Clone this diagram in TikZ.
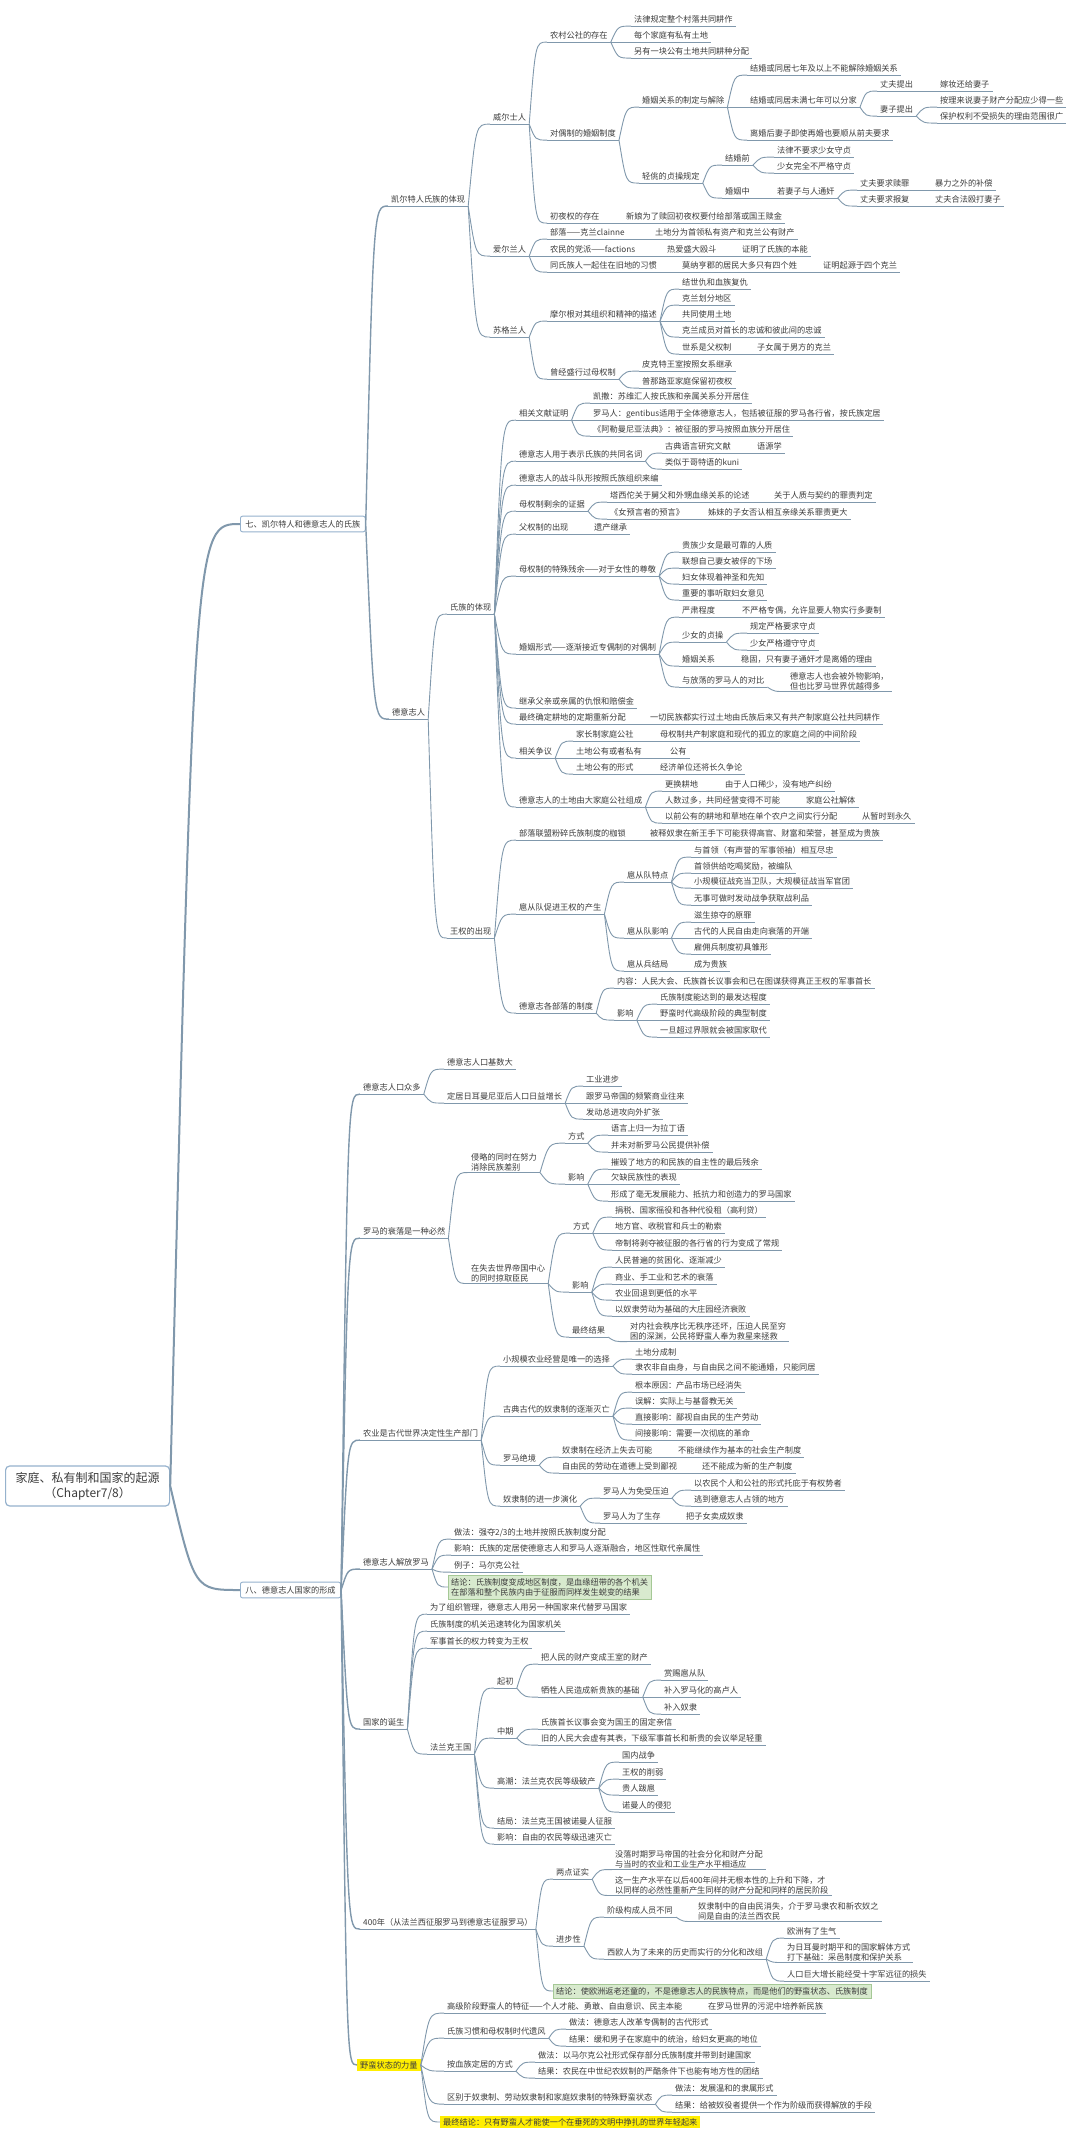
\documentclass[tikz,border=0pt]{standalone}
\usepackage{fontspec}
\setmainfont{Noto Sans CJK SC}
\usetikzlibrary{calc}
\definecolor{linecol}{RGB}{128,152,172}
\definecolor{txtcol}{RGB}{60,60,60}
\definecolor{boxcol}{RGB}{150,178,205}
\definecolor{notegreen}{RGB}{216,234,206}
\definecolor{noteline}{RGB}{165,200,150}
\definecolor{hlyellow}{RGB}{255,238,0}

\tikzset{
  uline/.style={draw=linecol,line width=0.9pt},
  conn/.style={draw=linecol,line width=0.9pt},
  tbase/.style={anchor=west,inner xsep=3pt,inner ysep=1.5pt,text=txtcol,
    font=\fontsize{8.2}{10}\selectfont,
    append after command={(\tikzlastnode.south west) edge[uline] (\tikzlastnode.south east)}},
  topic/.style={tbase,text height=7pt,text depth=1.8pt},
  topic2/.style={tbase,align=left},
  rootbox/.style={anchor=west,draw=boxcol,line width=1.2pt,rounded corners=4pt,fill=white,
    align=center,text=txtcol,font=\fontsize{12}{15}\selectfont,inner xsep=10pt,inner ysep=6pt},
  levelbox/.style={anchor=west,draw=boxcol,line width=0.9pt,rounded corners=2pt,fill=white,
    text=txtcol,font=\fontsize{8.2}{10}\selectfont,inner xsep=5pt,inner ysep=4pt},
  note/.style={anchor=west,fill=notegreen,draw=noteline,align=left,text=txtcol,
    font=\fontsize{8.2}{10}\selectfont,inner sep=3pt},
  hl/.style={anchor=west,fill=hlyellow,text=txtcol,font=\fontsize{8.2}{10}\selectfont,
    inner xsep=3pt,inner ysep=2.5pt}
}
% curved connector, fans out from the end of the parent line
\newcommand{\branch}[3][]{\draw[conn,#1] let \p1=(#2), \p2=(#3) in
  (\p1) .. controls (\x1+0.35*\x2-0.35*\x1,\y2) .. (\p2);}
\newcommand{\kids}[2]{\foreach \ch in {#2}{\branch{#1.south east}{\ch.south west}}}

\begin{document}
\begin{tikzpicture}[x=1pt,y=-1pt]
\useasboundingbox (0,0) rectangle (1080,2141);
\fill[white] (0,0) rectangle (1080,2141);

% root and first level
\node[rootbox] (root) at (5,1486) {家庭、私有制和国家的起源\\（Chapter7/8）};
\node[levelbox] (qi) at (240,524) {七、凯尔特人和德意志人的氏族};
\node[levelbox] (ba) at (240,1590) {八、德意志人国家的形成};

% ---- 七 ----
\node[topic] (celt) at (388,200) {凯尔特人氏族的体现};
\node[topic] (wales) at (490,118) {威尔士人};
\node[topic] (w1) at (547,36) {农村公社的存在};
\node[topic] (w1a) at (631,20) {法律规定整个村落共同耕作};
\node[topic] (w1b) at (631,36) {每个家庭有私有土地};
\node[topic] (w1c) at (631,52) {另有一块公有土地共同耕种分配};
\node[topic] (w2) at (547,134) {对偶制的婚姻制度};
\node[topic] (w2a) at (639,101) {婚姻关系的制定与解除};
\node[topic] (w2a1) at (747,69) {结婚或同居七年及以上不能解除婚姻关系};
\node[topic] (w2a2) at (747,101) {结婚或同居未满七年可以分家};
\node[topic] (hus) at (877,85) {丈夫提出};
\node[topic] (hus1) at (937,85) {嫁妆还给妻子};
\node[topic] (wife) at (877,110) {妻子提出};
\node[topic] (wife1) at (937,101) {按理来说妻子财产分配应少得一些};
\node[topic] (wife2) at (937,117) {保护权利不受损失的理由范围很广};
\node[topic] (w2a3) at (747,134) {离婚后妻子即使再婚也要顺从前夫要求};
\node[topic] (w2b) at (639,177) {轻佻的贞操规定};
\node[topic] (bef) at (722,159) {结婚前};
\node[topic] (bef1) at (774,151) {法律不要求少女守贞};
\node[topic] (bef2) at (774,167) {少女完全不严格守贞};
\node[topic] (dur) at (722,192) {婚姻中};
\node[topic] (adul) at (774,192) {若妻子与人通奸};
\node[topic] (adul1) at (857,184) {丈夫要求赎罪};
\node[topic] (adul1a) at (932,184) {暴力之外的补偿};
\node[topic] (adul2) at (857,200) {丈夫要求报复};
\node[topic] (adul2a) at (932,200) {丈夫合法殴打妻子};
\node[topic] (w3) at (547,217) {初夜权的存在};
\node[topic] (w3a) at (623,217) {新娘为了赎回初夜权要付给部落或国王赎金};
\node[topic] (irish) at (490,250) {爱尔兰人};
\node[topic] (ir1) at (547,233) {部落——克兰clainne};
\node[topic] (ir1a) at (652,233) {土地分为首领私有资产和克兰公有财产};
\node[topic] (ir2) at (547,250) {农民的党派——factions};
\node[topic] (ir2a) at (664,250) {热爱盛大殴斗};
\node[topic] (ir2b) at (739,250) {证明了氏族的本能};
\node[topic] (ir3) at (547,266) {同氏族人一起住在旧地的习惯};
\node[topic] (ir3a) at (679,266) {莫纳亨郡的居民大多只有四个姓};
\node[topic] (ir3b) at (820,266) {证明起源于四个克兰};
\node[topic] (scot) at (490,331) {苏格兰人};
\node[topic] (sc1) at (547,315) {摩尔根对其组织和精神的描述};
\node[topic] (sc1a) at (679,283) {结世仇和血族复仇};
\node[topic] (sc1b) at (679,299) {克兰划分地区};
\node[topic] (sc1c) at (679,315) {共同使用土地};
\node[topic] (sc1d) at (679,331) {克兰成员对首长的忠诚和彼此间的忠诚};
\node[topic] (sc1e) at (679,348) {世系是父权制};
\node[topic] (sc1e1) at (754,348) {子女属于男方的克兰};
\node[topic] (sc2) at (547,373) {曾经盛行过母权制};
\node[topic] (sc2a) at (639,365) {皮克特王室按照女系继承};
\node[topic] (sc2b) at (639,382) {普那路亚家庭保留初夜权};

\node[topic] (de) at (389,713) {德意志人};
\node[topic] (gens) at (447,608) {氏族的体现};
\node[topic] (g1) at (516,414) {相关文献证明};
\node[topic] (g1a) at (590,397) {凯撒：苏维汇人按氏族和亲属关系分开居住};
\node[topic] (g1b) at (590,414) {罗马人：gentibus适用于全体德意志人，包括被征服的罗马各行省，按氏族定居};
\node[topic] (g1c) at (590,430) {《阿勒曼尼亚法典》：被征服的罗马按照血族分开居住};
\node[topic] (g2) at (516,455) {德意志人用于表示氏族的共同名词};
\node[topic] (g2a) at (662,447) {古典语言研究文献};
\node[topic] (g2a1) at (754,447) {语源学};
\node[topic] (g2b) at (662,463) {类似于哥特语的kuni};
\node[topic] (g3) at (516,479) {德意志人的战斗队形按照氏族组织来编};
\node[topic] (g4) at (516,505) {母权制剩余的证据};
\node[topic] (g4a) at (607,496) {塔西佗关于舅父和外甥血缘关系的论述};
\node[topic] (g4a1) at (771,496) {关于人质与契约的罪责判定};
\node[topic] (g4b) at (607,513) {《女预言者的预言》};
\node[topic] (g4b1) at (705,513) {姊妹的子女否认相互亲缘关系罪责更大};
\node[topic] (g5) at (516,528) {父权制的出现};
\node[topic] (g5a) at (591,528) {遗产继承};
\node[topic] (g6) at (516,570) {母权制的特殊残余——对于女性的尊敬};
\node[topic] (g6a) at (679,546) {贵族少女是最可靠的人质};
\node[topic] (g6b) at (679,562) {联想自己妻女被俘的下场};
\node[topic] (g6c) at (679,578) {妇女体现着神圣和先知};
\node[topic] (g6d) at (679,594) {重要的事听取妇女意见};
\node[topic] (g7) at (516,648) {婚姻形式——逐渐接近专偶制的对偶制};
\node[topic] (g7a) at (679,611) {严肃程度};
\node[topic] (g7a1) at (739,611) {不严格专偶，允许显要人物实行多妻制};
\node[topic] (g7b) at (679,636) {少女的贞操};
\node[topic] (g7b1) at (747,627) {规定严格要求守贞};
\node[topic] (g7b2) at (747,644) {少女严格遵守守贞};
\node[topic] (g7c) at (679,660) {婚姻关系};
\node[topic] (g7c1) at (738,660) {稳固，只有妻子通奸才是离婚的理由};
\node[topic] (g7d) at (679,681) {与放荡的罗马人的对比};
\node[topic2] (g7d1) at (787,681) {德意志人也会被外物影响，\\但也比罗马世界优越得多};
\node[topic] (g8) at (516,702) {继承父亲或亲属的仇恨和赔偿金};
\node[topic] (g9) at (516,718) {最终确定耕地的定期重新分配};
\node[topic] (g9a) at (647,718) {一切民族都实行过土地由氏族后来又有共产制家庭公社共同耕作};
\node[topic] (g10) at (516,752) {相关争议};
\node[topic] (g10a) at (573,735) {家长制家庭公社};
\node[topic] (g10a1) at (657,735) {母权制共产制家庭和现代的孤立的家庭之间的中间阶段};
\node[topic] (g10b) at (573,752) {土地公有或者私有};
\node[topic] (g10b1) at (667,752) {公有};
\node[topic] (g10c) at (573,768) {土地公有的形式};
\node[topic] (g10c1) at (657,768) {经济单位还将长久争论};
\node[topic] (g11) at (516,801) {德意志人的土地由大家庭公社组成};
\node[topic] (g11a) at (662,785) {更换耕地};
\node[topic] (g11a1) at (722,785) {由于人口稀少，没有地产纠纷};
\node[topic] (g11b) at (662,801) {人数过多，共同经营变得不可能};
\node[topic] (g11b1) at (803,801) {家庭公社解体};
\node[topic] (g11c) at (662,817) {以前公有的耕地和草地在单个农户之间实行分配};
\node[topic] (g11c1) at (859,817) {从暂时到永久};

\node[topic] (wq) at (447,932) {王权的出现};
\node[topic] (wq1) at (516,834) {部落联盟粉碎氏族制度的枷锁};
\node[topic] (wq1a) at (647,834) {被释奴隶在新王手下可能获得高官、财富和荣誉，甚至成为贵族};
\node[topic] (wq2) at (516,908) {扈从队促进王权的产生};
\node[topic] (f1) at (624,876) {扈从队特点};
\node[topic] (f1a) at (691,851) {与首领（有声誉的军事领袖）相互尽忠};
\node[topic] (f1b) at (691,867) {首领供给吃喝奖励，被编队};
\node[topic] (f1c) at (691,882) {小规模征战充当卫队，大规模征战当军官团};
\node[topic] (f1d) at (691,899) {无事可做时发动战争获取战利品};
\node[topic] (f2) at (624,932) {扈从队影响};
\node[topic] (f2a) at (691,916) {滋生掠夺的原罪};
\node[topic] (f2b) at (691,932) {古代的人民自由走向衰落的开端};
\node[topic] (f2c) at (691,948) {雇佣兵制度初具雏形};
\node[topic] (f3) at (624,965) {扈从兵结局};
\node[topic] (f3a) at (691,965) {成为贵族};
\node[topic] (wq3) at (516,1007) {德意志各部落的制度};
\node[topic] (t1) at (614,982) {内容：人民大会、氏族酋长议事会和已在图谋获得真正王权的军事首长};
\node[topic] (t2) at (614,1014) {影响};
\node[topic] (t2a) at (657,998) {氏族制度能达到的最发达程度};
\node[topic] (t2b) at (657,1014) {野蛮时代高级阶段的典型制度};
\node[topic] (t2c) at (657,1031) {一旦超过界限就会被国家取代};

% ---- 八 ----
\node[topic] (p1) at (360,1088) {德意志人口众多};
\node[topic] (p1a) at (444,1063) {德意志人口基数大};
\node[topic] (p1b) at (444,1097) {定居日耳曼尼亚后人口日益增长};
\node[topic] (p1b1) at (583,1080) {工业进步};
\node[topic] (p1b2) at (583,1097) {跟罗马帝国的频繁商业往来};
\node[topic] (p1b3) at (583,1113) {发动总进攻向外扩张};
\node[topic] (p2) at (360,1232) {罗马的衰落是一种必然};
\node[topic2] (r1) at (468,1162) {侵略的同时在努力\\消除民族差别};
\node[topic] (r1a) at (565,1137) {方式};
\node[topic] (r1a1) at (608,1129) {语言上归一为拉丁语};
\node[topic] (r1a2) at (608,1146) {并未对新罗马公民提供补偿};
\node[topic] (r1b) at (565,1178) {影响};
\node[topic] (r1b1) at (608,1163) {摧毁了地方的和民族的自主性的最后残余};
\node[topic] (r1b2) at (608,1178) {欠缺民族性的表现};
\node[topic] (r1b3) at (608,1195) {形成了毫无发展能力、抵抗力和创造力的罗马国家};
\node[topic2] (r2) at (468,1273) {在失去世界帝国中心\\的同时掠取臣民};
\node[topic] (r2a) at (570,1227) {方式};
\node[topic] (r2a1) at (612,1211) {捐税、国家徭役和各种代役租（高利贷）};
\node[topic] (r2a2) at (612,1227) {地方官、收税官和兵士的勒索};
\node[topic] (r2a3) at (612,1244) {帝制将剥夺被征服的各行省的行为变成了常规};
\node[topic] (r2b) at (569,1286) {影响};
\node[topic] (r2b1) at (612,1261) {人民普遍的贫困化、逐渐减少};
\node[topic] (r2b2) at (612,1278) {商业、手工业和艺术的衰落};
\node[topic] (r2b3) at (612,1294) {农业回退到更低的水平};
\node[topic] (r2b4) at (612,1310) {以奴隶劳动为基础的大庄园经济衰败};
\node[topic] (r2c) at (569,1331) {最终结果};
\node[topic2] (r2c1) at (627,1331) {对内社会秩序比无秩序还坏，压迫人民至穷\\困的深渊，公民将野蛮人奉为救星来拯救};
\node[topic] (p3) at (360,1434) {农业是古代世界决定性生产部门};
\node[topic] (a1) at (500,1360) {小规模农业经营是唯一的选择};
\node[topic] (a1a) at (632,1353) {土地分成制};
\node[topic] (a1b) at (632,1368) {隶农非自由身，与自由民之间不能通婚，只能同居};
\node[topic] (a2) at (500,1410) {古典古代的奴隶制的逐渐灭亡};
\node[topic] (a2a) at (632,1386) {根本原因：产品市场已经消失};
\node[topic] (a2b) at (632,1402) {误解：实际上与基督教无关};
\node[topic] (a2c) at (632,1418) {直接影响：鄙视自由民的生产劳动};
\node[topic] (a2d) at (632,1434) {间接影响：需要一次彻底的革命};
\node[topic] (a3) at (500,1459) {罗马绝境};
\node[topic] (a3a) at (559,1451) {奴隶制在经济上失去可能};
\node[topic] (a3a1) at (675,1451) {不能继续作为基本的社会生产制度};
\node[topic] (a3b) at (559,1467) {自由民的劳动在道德上受到鄙视};
\node[topic] (a3b1) at (699,1467) {还不能成为新的生产制度};
\node[topic] (a4) at (500,1500) {奴隶制的进一步演化};
\node[topic] (a4a) at (600,1492) {罗马人为免受压迫};
\node[topic] (a4a1) at (691,1484) {以农民个人和公社的形式托庇于有权势者};
\node[topic] (a4a2) at (691,1500) {逃到德意志人占领的地方};
\node[topic] (a4b) at (600,1517) {罗马人为了生存};
\node[topic] (a4b1) at (683,1517) {把子女卖成奴隶};
\node[topic] (p4) at (360,1563) {德意志人解放罗马};
\node[topic] (j1) at (451,1533) {做法：强夺2/3的土地并按照氏族制度分配};
\node[topic] (j2) at (451,1549) {影响：氏族的定居使德意志人和罗马人逐渐融合，地区性取代亲属性};
\node[topic] (j3) at (451,1566) {例子：马尔克公社};
\node[note] (j4) at (448,1587) {结论：氏族制度变成地区制度，是血缘纽带的各个机关\\在部落和整个民族内由于征服而同样发生蜕变的结果};
\node[topic] (p5) at (360,1723) {国家的诞生};
\node[topic] (s1) at (427,1608) {为了组织管理，德意志人用另一种国家来代替罗马国家};
\node[topic] (s2) at (427,1625) {氏族制度的机关迅速转化为国家机关};
\node[topic] (s3) at (427,1642) {军事首长的权力转变为王权};
\node[topic] (s4) at (427,1748) {法兰克王国};
\node[topic] (k1) at (494,1682) {起初};
\node[topic] (k1a) at (538,1658) {把人民的财产变成王室的财产};
\node[topic] (k1b) at (538,1691) {牺牲人民造成新贵族的基础};
\node[topic] (k1b1) at (661,1674) {赏赐扈从队};
\node[topic] (k1b2) at (661,1691) {补入罗马化的高卢人};
\node[topic] (k1b3) at (661,1708) {补入奴隶};
\node[topic] (k2) at (494,1732) {中期};
\node[topic] (k2a) at (538,1723) {氏族首长议事会变为国王的固定亲信};
\node[topic] (k2b) at (538,1739) {旧的人民大会虚有其表，下级军事首长和新贵的会议举足轻重};
\node[topic] (k3) at (494,1782) {高潮：法兰克农民等级破产};
\node[topic] (k3a) at (619,1756) {国内战争};
\node[topic] (k3b) at (619,1773) {王权的削弱};
\node[topic] (k3c) at (619,1789) {贵人跋扈};
\node[topic] (k3d) at (619,1806) {诺曼人的侵犯};
\node[topic] (k4) at (494,1822) {结局：法兰克王国被诺曼人征服};
\node[topic] (k5) at (494,1838) {影响：自由的农民等级迅速灭亡};
\node[topic] (p6) at (360,1923) {400年（从法兰西征服罗马到德意志征服罗马）};
\node[topic] (y1) at (553,1873) {两点证实};
\node[topic2] (y1a) at (612,1859) {没落时期罗马帝国的社会分化和财产分配\\与当时的农业和工业生产水平相适应};
\node[topic2] (y1b) at (612,1885) {这一生产水平在以后400年间并无根本性的上升和下降，才\\以同样的必然性重新产生同样的财产分配和同样的居民阶段};
\node[topic] (y2) at (553,1940) {进步性};
\node[topic] (y2a) at (604,1911) {阶级构成人员不同};
\node[topic2] (y2a1) at (695,1911) {奴隶制中的自由民消失，介于罗马隶农和新农奴之\\间是自由的法兰西农民};
\node[topic] (y2b) at (604,1953) {西欧人为了未来的历史而实行的分化和改组};
\node[topic] (y2b1) at (784,1932) {欧洲有了生气};
\node[topic2] (y2b2) at (784,1952) {为日耳曼时期平和的国家解体方式\\打下基础：采邑制度和保护关系};
\node[topic] (y2b3) at (784,1975) {人口巨大增长能经受十字军远征的损失};
\node[note] (y3) at (553,1991) {结论：使欧洲返老还童的，不是德意志人的民族特点，而是他们的野蛮状态、氏族制度};
\node[hl] (p7) at (357,2065) {野蛮状态的力量};
\node[topic] (m1) at (444,2007) {高级阶段野蛮人的特征——个人才能、勇敢、自由意识、民主本能};
\node[topic] (m1a) at (705,2007) {在罗马世界的污泥中培养新民族};
\node[topic] (m2) at (444,2032) {氏族习惯和母权制时代遗风};
\node[topic] (m2a) at (566,2023) {做法：德意志人改革专偶制的古代形式};
\node[topic] (m2b) at (566,2040) {结果：缓和男子在家庭中的统治，给妇女更高的地位};
\node[topic] (m3) at (444,2065) {按血族定居的方式};
\node[topic] (m3a) at (535,2056) {做法：以马尔克公社形式保存部分氏族制度并带到封建国家};
\node[topic] (m3b) at (535,2072) {结果：农民在中世纪农奴制的严酷条件下也能有地方性的团结};
\node[topic] (m4) at (444,2098) {区别于奴隶制、劳动奴隶制和家庭奴隶制的特殊野蛮状态};
\node[topic] (m4a) at (672,2089) {做法：发展温和的隶属形式};
\node[topic] (m4b) at (672,2106) {结果：给被奴役者提供一个作为阶级而获得解放的手段};
\node[hl] (m5) at (440,2122) {最终结论：只有野蛮人才能使一个在垂死的文明中挣扎的世界年轻起来};

% connectors
\branch[line width=2pt]{root.east}{qi.west}
\branch[line width=2pt]{root.east}{ba.west}
\branch[line width=1.4pt]{qi.east}{celt.south west}
\branch[line width=1.4pt]{qi.east}{de.south west}
\foreach \ch in {p1,p2,p3,p4,p5,p6} {\branch[line width=1.4pt]{ba.east}{\ch.south west}}
\branch[line width=1.4pt]{ba.east}{p7.west}

\kids{celt}{wales,irish,scot}
\kids{wales}{w1,w2,w3}
\kids{w1}{w1a,w1b,w1c}
\kids{w2}{w2a,w2b}
\kids{w2a}{w2a1,w2a2,w2a3}
\kids{w2a2}{hus,wife}
\kids{hus}{hus1}
\kids{wife}{wife1,wife2}
\kids{w2b}{bef,dur}
\kids{bef}{bef1,bef2}
\kids{dur}{adul}
\kids{adul}{adul1,adul2}
\kids{adul1}{adul1a}
\kids{adul2}{adul2a}
\kids{w3}{w3a}
\kids{irish}{ir1,ir2,ir3}
\kids{ir1}{ir1a}
\kids{ir2}{ir2a}
\kids{ir2a}{ir2b}
\kids{ir3}{ir3a}
\kids{ir3a}{ir3b}
\kids{scot}{sc1,sc2}
\kids{sc1}{sc1a,sc1b,sc1c,sc1d,sc1e}
\kids{sc1e}{sc1e1}
\kids{sc2}{sc2a,sc2b}

\kids{de}{gens,wq}
\kids{gens}{g1,g2,g3,g4,g5,g6,g7,g8,g9,g10,g11}
\kids{g1}{g1a,g1b,g1c}
\kids{g2}{g2a,g2b}
\kids{g2a}{g2a1}
\kids{g4}{g4a,g4b}
\kids{g4a}{g4a1}
\kids{g4b}{g4b1}
\kids{g5}{g5a}
\kids{g6}{g6a,g6b,g6c,g6d}
\kids{g7}{g7a,g7b,g7c,g7d}
\kids{g7a}{g7a1}
\kids{g7b}{g7b1,g7b2}
\kids{g7c}{g7c1}
\kids{g7d}{g7d1}
\kids{g9}{g9a}
\kids{g10}{g10a,g10b,g10c}
\kids{g10a}{g10a1}
\kids{g10b}{g10b1}
\kids{g10c}{g10c1}
\kids{g11}{g11a,g11b,g11c}
\kids{g11a}{g11a1}
\kids{g11b}{g11b1}
\kids{g11c}{g11c1}
\kids{wq}{wq1,wq2,wq3}
\kids{wq1}{wq1a}
\kids{wq2}{f1,f2,f3}
\kids{f1}{f1a,f1b,f1c,f1d}
\kids{f2}{f2a,f2b,f2c}
\kids{f3}{f3a}
\kids{wq3}{t1,t2}
\kids{t2}{t2a,t2b,t2c}

\kids{p1}{p1a,p1b}
\kids{p1b}{p1b1,p1b2,p1b3}
\kids{p2}{r1,r2}
\kids{r1}{r1a,r1b}
\kids{r1a}{r1a1,r1a2}
\kids{r1b}{r1b1,r1b2,r1b3}
\kids{r2}{r2a,r2b,r2c}
\kids{r2a}{r2a1,r2a2,r2a3}
\kids{r2b}{r2b1,r2b2,r2b3,r2b4}
\kids{r2c}{r2c1}
\kids{p3}{a1,a2,a3,a4}
\kids{a1}{a1a,a1b}
\kids{a2}{a2a,a2b,a2c,a2d}
\kids{a3}{a3a,a3b}
\kids{a3a}{a3a1}
\kids{a3b}{a3b1}
\kids{a4}{a4a,a4b}
\kids{a4a}{a4a1,a4a2}
\kids{a4b}{a4b1}
\kids{p4}{j1,j2,j3}
\branch{p4.south east}{j4.west}
\kids{p5}{s1,s2,s3,s4}
\kids{s4}{k1,k2,k3,k4,k5}
\kids{k1}{k1a,k1b}
\kids{k1b}{k1b1,k1b2,k1b3}
\kids{k2}{k2a,k2b}
\kids{k3}{k3a,k3b,k3c,k3d}
\kids{p6}{y1,y2}
\branch{p6.south east}{y3.west}
\kids{y1}{y1a,y1b}
\kids{y2}{y2a,y2b}
\kids{y2a}{y2a1}
\kids{y2b}{y2b1,y2b2,y2b3}
\foreach \ch in {m1,m2,m3,m4} {\branch{p7.east}{\ch.south west}}
\branch{p7.east}{m5.west}
\kids{m1}{m1a}
\kids{m2}{m2a,m2b}
\kids{m3}{m3a,m3b}
\kids{m4}{m4a,m4b}
\end{tikzpicture}
\end{document}
